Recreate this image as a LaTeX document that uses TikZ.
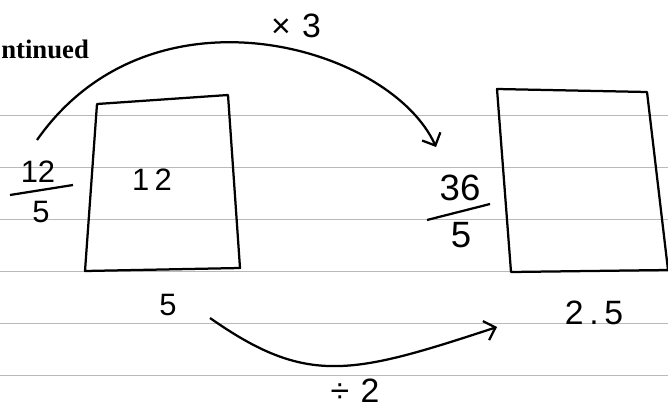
\documentclass[tikz,border=0pt]{standalone}
\usepackage{fontspec}
\setmainfont{Liberation Serif}
\newfontfamily\handfont{Liberation Sans}
\usetikzlibrary{arrows.meta}

\begin{document}
\begin{tikzpicture}[x=0.025cm, y=0.025cm,
        rule/.style={gray!55, line width=0.5pt},
        pen/.style={line width=1.6pt, line join=round},
        hand/.style={font=\handfont\fontsize{22}{26}\selectfont, inner sep=0pt},
        bighand/.style={font=\handfont\fontsize{26}{30}\selectfont, inner sep=0pt},
        arrow/.style={-{Straight Barb[length=2.5mm, width=5mm]}, line width=1.6pt}
    ]
    \useasboundingbox (0,0) rectangle (668,410);

    % ruled paper
    \foreach \y in {295,243,191,139,87,35}
        \draw[rule] (0,\y) -- (668,\y);

    % heading
    \node[font=\fontsize{19}{21}\selectfont\bfseries, anchor=base west, inner sep=0pt] (title) at (1,352) {ntinued};

    % the two boxes
    \draw[pen] (97,306) -- (228,315) -- (240,142) -- (85,139) -- cycle;
    \draw[pen] (497,321) -- (647,318) -- (668,140) -- (511,138) -- cycle;

    % left box labels
    \node[hand] (num12) at (38,238) {12};
    \node[hand] (den12) at (41,198) {5};
    \draw[pen] (10,215) -- (73,225);
    \node[hand] (area) at (152,230) {1\,2};
    \node[hand] (len) at (168,105) {5};

    % right box labels
    \node[bighand] (num36) at (460,222) {36};
    \node[bighand] (den36) at (461,175) {5};
    \draw[pen] (427,190) -- (490,206);
    \node[hand, font=\handfont\fontsize{24}{28}\selectfont] (newlen) at (594,97) {2\,.\,5};

    % operators
    \node[hand, font=\handfont\fontsize{24}{28}\selectfont] (times) at (296,384) {×\,\,3};
    \node[hand, font=\handfont\fontsize{24}{28}\selectfont] (divide) at (355,19) {÷\,\,2};

    % arcs
    \coordinate (upstart) at (37,270);
    \coordinate (upend) at (436,263);
    \coordinate (lowstart) at (210,92);
    \coordinate (lowend) at (497,83);

    \draw[arrow] (upstart) .. controls (152,434) and (391,363) .. (upend);
    \draw[arrow] (lowstart) .. controls (307,24) and (351,35) .. (lowend);

\end{tikzpicture}
\end{document}
